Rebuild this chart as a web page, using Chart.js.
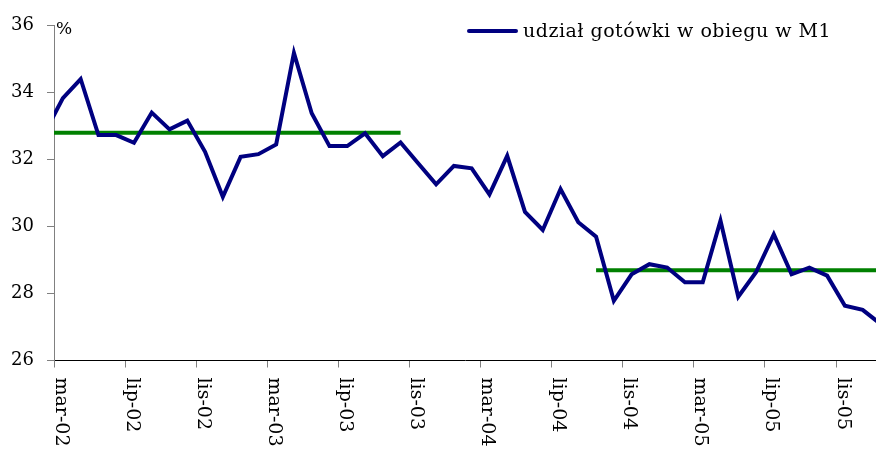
<!DOCTYPE html>
<html>
<head>
<meta charset="utf-8">
<script src="https://cdn.jsdelivr.net/npm/chart.js@4/dist/chart.umd.min.js"></script>
<style>
html,body{margin:0;padding:0;background:#fff;}
#wrap{width:876px;height:452px;position:relative;}
</style>
</head>
<body>
<div id="wrap"><canvas id="c"></canvas></div>
<script>
// Months (category of each observation)
const months = ['lut-02','mar-02','kwi-02','maj-02','cze-02','lip-02','sie-02','wrz-02','paź-02','lis-02','gru-02',
  'sty-03','lut-03','mar-03','kwi-03','maj-03','cze-03','lip-03','sie-03','wrz-03','paź-03','lis-03','gru-03',
  'sty-04','lut-04','mar-04','kwi-04','maj-04','cze-04','lip-04','sie-04','wrz-04','paź-04','lis-04','gru-04',
  'sty-05','lut-05','mar-05','kwi-05','maj-05','cze-05','lip-05','sie-05','wrz-05','paź-05','lis-05','gru-05',
  'sty-06'];
// Share of cash in circulation in M1 (%)
const cashShare = [32.81,33.82,34.39,32.72,32.72,32.49,33.39,32.89,33.15,32.22,30.88,
  32.07,32.15,32.44,35.17,33.37,32.39,32.39,32.77,32.09,32.50,31.87,31.25,
  31.80,31.73,30.95,32.10,30.43,29.89,31.11,30.12,29.69,27.78,28.57,28.87,
  28.77,28.33,28.33,30.17,27.90,28.63,29.76,28.57,28.77,28.53,27.63,27.51,
  27.09];
// Period averages (green lines)
const avgLevel = [32.79, 28.69];
const avgStart = ['lut-02', 'wrz-04'];
const avgEnd = ['paź-03', 'sty-06'];
// Axis tick labels
const xTickLabels = ['mar-02','lip-02','lis-02','mar-03','lip-03','lis-03','mar-04','lip-04','lis-04','mar-05','lip-05','lis-05'];
const yTicks = [26, 28, 30, 32, 34, 36];
const seriesLabel = 'udział gotówki w obiegu w M1';

const FONT = "'DejaVu Serif', serif";
const NAVY = '#000080';
const GREEN = '#008000';

const blueData = cashShare.map((v, i) => ({x: i + 0.5, y: v}));
const avgData = avgLevel.map((lvl, j) => {
  const a = months.indexOf(avgStart[j]), b = months.indexOf(avgEnd[j]);
  const pts = [];
  for (let i = a; i <= b; i++) pts.push({x: i + 0.5, y: lvl});
  return pts;
});

const overlay = {
  id: 'overlay',
  afterDraw(chart) {
    const ctx = chart.ctx;
    const xs = chart.scales.x;
    ctx.save();
    // rotated x tick labels (reading top to bottom)
    ctx.fillStyle = '#000';
    ctx.font = '19px ' + FONT;
    ctx.textAlign = 'left';
    ctx.textBaseline = 'alphabetic';
    xTickLabels.forEach(l => {
      const px = xs.getPixelForValue(months.indexOf(l));
      ctx.save();
      ctx.translate(px + 1.5, xs.top + 17);
      ctx.rotate(Math.PI / 2);
      ctx.fillText(l, 0, 0);
      ctx.restore();
    });
    // unit
    ctx.font = '17px ' + FONT;
    ctx.fillText('%', chart.chartArea.left + 2, 34);
    // legend
    ctx.strokeStyle = NAVY;
    ctx.lineWidth = 4;
    ctx.lineCap = 'round';
    ctx.beginPath();
    ctx.moveTo(469, 31);
    ctx.lineTo(516, 31);
    ctx.stroke();
    ctx.font = '19px ' + FONT;
    if ('letterSpacing' in ctx) ctx.letterSpacing = '0.5px';
    ctx.fillText(seriesLabel, 523, 37);
    ctx.restore();
  }
};

new Chart(document.getElementById('c'), {
  type: 'line',
  data: {
    datasets: [
      {label: 'avg1', data: avgData[0], borderColor: GREEN, borderWidth: 4, pointRadius: 0, tension: 0, clip: 0, order: 2},
      {label: 'avg2', data: avgData[1], borderColor: GREEN, borderWidth: 4, pointRadius: 0, tension: 0, clip: 0, order: 2},
      {label: seriesLabel, data: blueData, borderColor: NAVY, borderWidth: 4, pointRadius: 0, tension: 0, clip: 0, order: 1}
    ]
  },
  options: {
    responsive: true,
    maintainAspectRatio: false,
    animation: false,
    devicePixelRatio: 1,
    layout: {padding: {top: 25, right: 0, left: 0, bottom: 0}},
    plugins: {legend: {display: false}, tooltip: {enabled: false}},
    scales: {
      x: {
        type: 'linear',
        min: 1,
        max: 47.25,
        afterBuildTicks: s => { s.ticks = xTickLabels.map(l => ({value: months.indexOf(l)})); },
        afterFit: s => { s.height = 91.5; },
        ticks: {display: false},
        grid: {drawOnChartArea: false, drawTicks: true, tickLength: 7, color: '#808080'},
        border: {display: true, color: '#000', width: 1}
      },
      y: {
        min: 26,
        max: 36,
        afterBuildTicks: s => { s.ticks = yTicks.map(v => ({value: v})); },
        afterFit: s => { s.width = 54; },
        ticks: {color: '#000', font: {family: FONT, size: 18}, padding: 13},
        grid: {drawOnChartArea: false, drawTicks: true, tickLength: 7, color: '#808080'},
        border: {display: true, color: '#808080', width: 1}
      }
    }
  },
  plugins: [overlay]
});
</script>
</body>
</html>
